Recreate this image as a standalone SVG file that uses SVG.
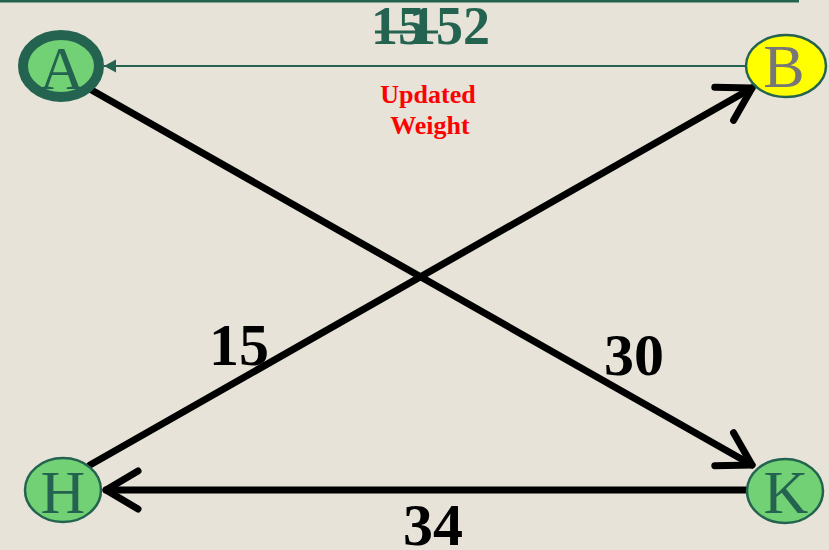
<svg xmlns="http://www.w3.org/2000/svg" width="829" height="550" viewBox="0 0 829 550">
<style>
.node{fill:#72d174;stroke:#246350;stroke-width:2.5}
.lbl{font-family:"Liberation Serif","Times New Roman",serif;font-size:62px;fill:#246350;text-anchor:middle}
.edge{stroke:#000;stroke-width:7;stroke-linecap:round;fill:none}
.w{font-family:"Liberation Serif","Times New Roman",serif;font-size:60px;font-weight:bold;fill:#000;text-anchor:middle}
.top{font-family:"Liberation Serif","Times New Roman",serif;font-size:54px;font-weight:bold;fill:#246350}
.upd{font-family:"Liberation Serif","Times New Roman",serif;font-size:26px;font-weight:bold;fill:#ff0000;text-anchor:middle}
</style>
<defs>
<marker id="chev" markerUnits="userSpaceOnUse" viewBox="-40 -25 50 50" markerWidth="50" markerHeight="50" refX="0" refY="0" orient="auto" overflow="visible">
<path d="M-32,-19 L0,0 L-32,19" fill="none" stroke="#000" stroke-width="7" stroke-linecap="round" stroke-linejoin="round"/>
</marker>
<marker id="tri" markerUnits="userSpaceOnUse" viewBox="-14 -7 16 14" markerWidth="16" markerHeight="14" refX="0" refY="0" orient="auto" overflow="visible">
<path d="M0,0 L-12,-6.5 L-12,6.5 Z" fill="#246350"/>
</marker>
</defs>
<rect x="0" y="0" width="829" height="550" fill="#e7e3d8"/>
<rect x="0" y="0" width="799" height="2.5" fill="#246350"/>
<g id="connectors">
<line x1="745" y1="66" x2="104" y2="66" stroke="#246350" stroke-width="2" marker-end="url(#tri)"/>
<line class="edge" x1="88" y1="88" x2="752" y2="465" marker-end="url(#chev)"/>
<line class="edge" x1="90" y1="465" x2="752" y2="88" marker-end="url(#chev)"/>
<line class="edge" x1="746" y1="490" x2="106" y2="490" marker-end="url(#chev)"/>
</g>
<g id="labels">
<text class="top" x="371" y="44">15</text>
<line x1="375" y1="32" x2="438" y2="32" stroke="#246350" stroke-width="3"/>
<text class="top" x="409" y="44">152</text>
<text class="upd" x="428" y="103">Updated</text>
<text class="upd" x="430" y="134">Weight</text>
<text class="w" x="239" y="365">15</text>
<text class="w" x="634" y="375">30</text>
<text class="w" x="433" y="545">34</text>
</g>
<g id="node-A">
<ellipse cx="61" cy="66" rx="38" ry="31" fill="#72d174" stroke="#246350" stroke-width="10"/>
<text class="lbl" x="62" y="89">A</text>
</g>
<g id="node-B">
<ellipse cx="786" cy="66" rx="40" ry="31" fill="#ffff00" stroke="#246350" stroke-width="2.5"/>
<text class="lbl" x="784" y="87" style="fill:#777777">B</text>
</g>
<g id="node-H">
<ellipse class="node" cx="63" cy="490" rx="38" ry="32"/>
<text class="lbl" x="63" y="513">H</text>
</g>
<g id="node-K">
<ellipse class="node" cx="785" cy="491" rx="38" ry="32"/>
<text class="lbl" x="786" y="513">K</text>
</g>
</svg>
